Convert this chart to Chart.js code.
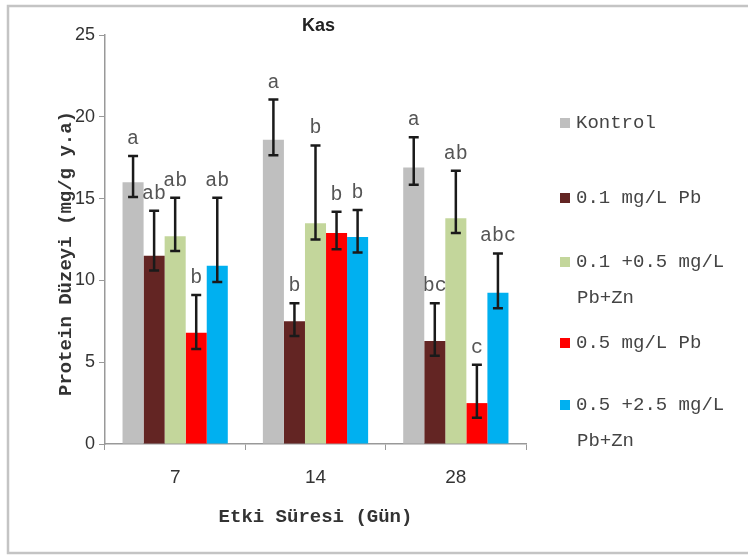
<!DOCTYPE html>
<html>
<head>
<meta charset="utf-8">
<script src="https://cdn.jsdelivr.net/npm/chart.js@4"></script>
<style>
  html, body { margin: 0; padding: 0; background: #fff; }
  #wrap { width: 748px; height: 558px; position: relative; }
</style>
</head>
<body>
<div id="wrap"><canvas id="myChart" width="748" height="558"></canvas></div>
<script>
// dados
var dias = ['7', '14', '28'];
var grupos = ['Kontrol', '0.1 mg/L Pb', '0.1 +0.5 mg/L\nPb+Zn', '0.5 mg/L Pb', '0.5 +2.5 mg/L\nPb+Zn'];
var cores = ['#BFBFBF', '#632523', '#C3D69B', '#FF0000', '#00B0F0'];

var kontrol = [16.0, 18.6, 16.9];
var pb01 = [11.5, 7.5, 6.3];
var pbzn01 = [12.7, 13.5, 13.8];
var pb05 = [6.8, 12.9, 2.5];
var pbzn05 = [10.9, 12.65, 9.25];

// barras de erro (para cima / para baixo)
var erroCima = [
    [1.6, 2.45, 1.85],
    [2.75, 1.1, 2.3],
    [2.35, 4.75, 2.9],
    [2.3, 1.3, 2.35],
    [4.15, 1.65, 2.4]
];
var erroBaixo = [
    [0.9, 0.95, 1.05],
    [0.9, 0.9, 0.9],
    [0.9, 1.0, 0.9],
    [1.0, 1.0, 0.9],
    [1.0, 0.95, 0.95]
];

// letras de significancia
var letras = [
    ['a', 'a', 'a'],
    ['ab', 'b', 'bc'],
    ['ab', 'b', 'ab'],
    ['b', 'b', 'c'],
    ['ab', 'b', 'abc']
];

var yTicks = [0, 5, 10, 15, 20, 25];

var valores = [kontrol, pb01, pbzn01, pb05, pbzn05];

var datasets = [];
for (var i = 0; i < grupos.length; i++) {
    datasets.push({
        label: grupos[i],
        data: valores[i],
        backgroundColor: cores[i],
        borderWidth: 0,
        categoryPercentage: 0.75,
        barPercentage: 1.0
    });
}

var fonteMono = '"Liberation Mono", "DejaVu Sans Mono", monospace';
var fonteSans = '"Liberation Sans", Arial, sans-serif';

const extras = {
    id: 'extras',
    beforeDraw(chart) {
        const ctx = chart.ctx;
        ctx.save();
        ctx.fillStyle = '#fff';
        ctx.fillRect(0, 0, chart.width, chart.height);
        ctx.strokeStyle = '#c4c4c4';
        ctx.lineWidth = 2.5;
        ctx.strokeRect(8, 6, 800, 547);
        ctx.restore();
    },
    afterDatasetsDraw(chart) {
        const ctx = chart.ctx;
        const y = chart.scales.y;
        ctx.save();
        for (var d = 0; d < chart.data.datasets.length; d++) {
            var meta = chart.getDatasetMeta(d);
            for (var k = 0; k < meta.data.length; k++) {
                var bar = meta.data[k];
                var v = chart.data.datasets[d].data[k];
                var yTop = y.getPixelForValue(v + erroCima[d][k]);
                var yBot = y.getPixelForValue(v - erroBaixo[d][k]);
                ctx.strokeStyle = '#1a1a1a';
                ctx.lineWidth = 2.5;
                ctx.beginPath();
                ctx.moveTo(bar.x, yTop);
                ctx.lineTo(bar.x, yBot);
                ctx.moveTo(bar.x - 5, yTop);
                ctx.lineTo(bar.x + 5, yTop);
                ctx.moveTo(bar.x - 5, yBot);
                ctx.lineTo(bar.x + 5, yBot);
                ctx.stroke();

                ctx.fillStyle = '#555';
                ctx.font = '20px ' + fonteMono;
                ctx.textAlign = 'center';
                ctx.textBaseline = 'alphabetic';
                ctx.fillText(letras[d][k], bar.x, yTop - 12);
            }
        }
        ctx.restore();
    },
    afterDraw(chart) {
        const ctx = chart.ctx;
        const area = chart.chartArea;
        ctx.save();
        // titulo
        ctx.fillStyle = '#222';
        ctx.font = 'bold 18px ' + fonteSans;
        ctx.textAlign = 'center';
        ctx.textBaseline = 'middle';
        ctx.fillText('Kas', (area.left + area.right) / 2 + 3, 26);

        // titulos dos eixos
        ctx.fillStyle = '#333';
        ctx.font = 'bold 19px ' + fonteMono;
        ctx.fillText('Etki Süresi (Gün)', (area.left + area.right) / 2, 517);
        ctx.save();
        ctx.translate(66, (area.top + area.bottom) / 2 + 14);
        ctx.rotate(-Math.PI / 2);
        ctx.fillText('Protein Düzeyi (mg/g y.a)', 0, 0);
        ctx.restore();

        // legenda
        var linhaY = [123, 198, 262, 343, 405];
        ctx.font = '19px ' + fonteMono;
        ctx.textAlign = 'left';
        for (var i = 0; i < grupos.length; i++) {
            var partes = grupos[i].split('\n');
            ctx.fillStyle = cores[i];
            ctx.fillRect(560, linhaY[i] - 5, 10, 10);
            ctx.fillStyle = '#444';
            for (var p = 0; p < partes.length; p++) {
                ctx.fillText(partes[p], p == 0 ? 576 : 577, linhaY[i] + p * 36);
            }
        }
        ctx.restore();
    }
};

const config = {
    type: 'bar',
    data: {
        labels: dias,
        datasets: datasets
    },
    options: {
        responsive: false,
        animation: false,
        layout: {
            padding: { left: 55, right: 222, top: 35, bottom: 64 }
        },
        plugins: {
            legend: { display: false },
            title: { display: false },
            tooltip: { enabled: false }
        },
        scales: {
            x: {
                grid: { drawOnChartArea: false, color: '#999', tickLength: 6 },
                border: { color: '#999', width: 1.5 },
                ticks: {
                    color: '#333',
                    padding: 16,
                    font: { family: fonteSans, size: 19 }
                },
                afterFit: function (scale) { scale.height = 50; }
            },
            y: {
                min: 0,
                max: 25,
                afterBuildTicks: function (scale) {
                    scale.ticks = yTicks.map(function (v) { return { value: v }; });
                },
                grid: { drawOnChartArea: false, color: '#999', tickLength: 6 },
                border: { color: '#999', width: 1.5 },
                ticks: {
                    color: '#333',
                    padding: 4,
                    font: { family: fonteSans, size: 18 }
                },
                afterFit: function (scale) { scale.width = 50; }
            }
        }
    },
    plugins: [extras]
};

const myChart = new Chart(document.getElementById('myChart'), config);
</script>
</body>
</html>
